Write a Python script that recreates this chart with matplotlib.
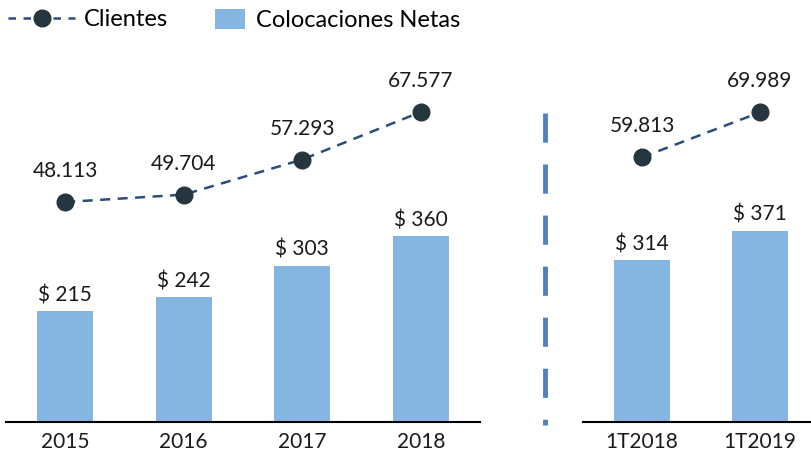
import matplotlib
matplotlib.use("Agg")
import matplotlib.pyplot as plt
from matplotlib.lines import Line2D
from matplotlib.patches import Patch
from matplotlib import font_manager as fm

# ---- data ----
years = ["2015", "2016", "2017", "2018"]
quarters = ["1T2018", "1T2019"]
colocaciones_years = [215, 242, 303, 360]
colocaciones_quarters = [314, 371]
clientes_years = [48113, 49704, 57293, 67577]
clientes_quarters = [59813, 69989]

BAR = "#85B6E1"
LINE = "#2A4D7F"
MARK = "#263640"
TXT = "#1a1a1a"

installed = {f.name for f in fm.fontManager.ttflist}
main_font = [f for f in ["Lato", "DejaVu Sans"] if f in installed] or ["DejaVu Sans"]
tick_font = [f for f in ["Liberation Sans Narrow", "Lato", "DejaVu Sans"] if f in installed]
plt.rcParams["font.family"] = main_font

fig = plt.figure(figsize=(8.11, 4.53), dpi=100)
W, H = 811, 453
base = (H - 422) / H

axL = fig.add_axes([6 / W, base, 474 / W, 422 / H])
axR = fig.add_axes([583 / W, base, 228 / W, 422 / H])
axL.set_xlim(-0.5, 3.5)
axR.set_xlim(-0.5, 1.432)
for ax in (axL, axR):
    ax.set_ylim(0, 818)
    for s in ("top", "right", "left"):
        ax.spines[s].set_visible(False)
    ax.spines["bottom"].set_color("#000000")
    ax.spines["bottom"].set_linewidth(1.5)
    ax.set_yticks([])
    ax.tick_params(axis="x", length=0, pad=7)
    ax.set_facecolor("none")


def fmt_dollar(v):
    return f"$ {v}"


def fmt_thousands(v):
    return f"{v:,}".replace(",", ".")


def draw(ax, cats, bars, line, ylim2):
    x = list(range(len(cats)))
    b = ax.bar(x, bars, width=0.47, color=BAR, zorder=2)
    for rect, v in zip(b, bars):
        ax.annotate(fmt_dollar(v), (rect.get_x() + rect.get_width() / 2, v),
                    xytext=(0, 16), textcoords="offset pixels",
                    ha="center", va="center", fontsize=15, color=TXT)
    ax.set_xticks(x)
    ax.set_xticklabels(cats, fontsize=15, color=TXT, family=tick_font)
    ax2 = ax.twinx()
    ax2.set_ylim(*ylim2)
    ax2.axis("off")
    ax2.plot(x, line, linestyle=(0, (4, 3)), color=LINE, lw=1.8, zorder=3,
             marker="o", markersize=12, markerfacecolor=MARK, markeredgecolor=MARK)
    for xi, v in zip(x, line):
        ax2.annotate(fmt_thousands(v), (xi, v), xytext=(0, 31), textcoords="offset pixels",
                     ha="center", va="center", fontsize=15, color=TXT)
    return ax2


draw(axL, years, colocaciones_years, clientes_years, (535, 91798))
draw(axR, quarters, colocaciones_quarters, clientes_quarters, (-74, 95401))

# separator
fig.add_artist(Line2D([545 / W, 545 / W], [1 - 113 / H, 1 - 425 / H], transform=fig.transFigure,
                      color="#4F81BD", lw=3.5, linestyle=(0, (6, 4.5))))

h1 = Line2D([0], [0], linestyle=(0, (3, 3)), color=LINE, lw=1.8, marker="o",
            markersize=12, markerfacecolor=MARK, markeredgecolor=MARK)
h2 = Patch(facecolor=BAR, edgecolor="none")
fig.legend([h1], ["Clientes"], loc="center left", bbox_to_anchor=(8 / W, 1 - 20 / H),
           frameon=False, fontsize=17, borderpad=0, borderaxespad=0,
           handlelength=2.85, handletextpad=0.35)
fig.legend([h2], ["Colocaciones Netas"], loc="center left", bbox_to_anchor=(215 / W, 1 - 20 / H),
           frameon=False, fontsize=17, borderpad=0, borderaxespad=0,
           handlelength=1.27, handleheight=0.95, handletextpad=0.45)

fig.savefig("out.png", dpi=100)
